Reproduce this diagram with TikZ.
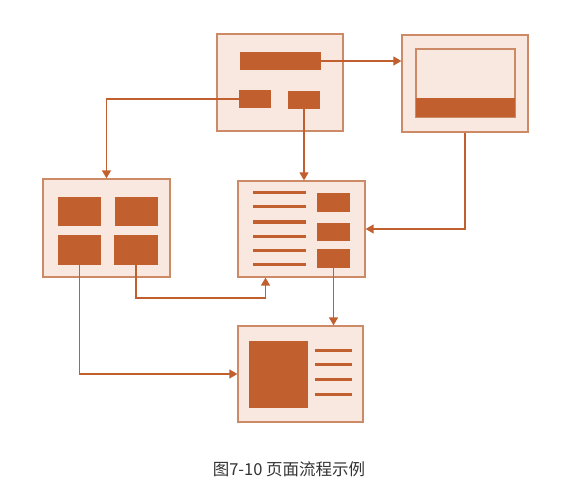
\documentclass[tikz,border=0pt]{standalone}
\usepackage{fontspec}
\newfontfamily\cjk{Noto Sans CJK SC}
\usepackage{xcolor}
\usetikzlibrary{arrows.meta}
\definecolor{pagefill}{HTML}{F8E8DF}
\definecolor{pageedge}{HTML}{CD8A66}
\definecolor{blockfill}{HTML}{C25F2F}

\begin{document}
\begin{tikzpicture}[x=1pt,y=-1pt]
        \useasboundingbox (0,0) rectangle (572,486);

        \begin{scope}[every node/.style = {draw=pageedge, fill=pagefill, line width=1.3pt, inner sep=0pt}]
            \node[minimum width=126pt, minimum height=97pt] (A) at (280,82.5)  {};
            \node[minimum width=126pt, minimum height=97pt] (B) at (465,83.5)  {};

            \node[minimum width=127pt, minimum height=98pt] (C) at (106.5,228) {};
            \node[minimum width=127pt, minimum height=96pt] (D) at (301.5,229) {};

            \node[minimum width=125pt, minimum height=96pt] (E) at (300.5,374) {};

            \node[minimum width=99pt, minimum height=68pt, fill=none] (Bwin) at (465.5,83) {};
        \end{scope}

        \begin{scope}[every node/.style = {fill=blockfill, inner sep=0pt}]
            \node[minimum width=81pt, minimum height=18pt] (Abar)   at (280.5,61)  {};
            \node[minimum width=32pt, minimum height=18pt] (Aleft)  at (255,99)    {};
            \node[minimum width=32pt, minimum height=18pt] (Aright) at (304,100)   {};

            \node[minimum width=99pt, minimum height=19pt] (Bbar)   at (465.5,107.5) {};

            \node[minimum width=43pt, minimum height=29pt] (Ctl) at (79.5,211.5) {};
            \node[minimum width=43pt, minimum height=29pt] (Ctr) at (136.5,211.5) {};
            \node[minimum width=43pt, minimum height=30pt] (Cbl) at (79.5,250) {};
            \node[minimum width=44pt, minimum height=30pt] (Cbr) at (136,250) {};

            \node[minimum width=33pt, minimum height=19pt] (Dr1) at (333.5,202.5) {};
            \node[minimum width=33pt, minimum height=18pt] (Dr2) at (333.5,232) {};
            \node[minimum width=33pt, minimum height=19pt] (Dr3) at (333.5,258.5) {};

            \node[minimum width=59pt, minimum height=67pt] (Epic) at (278.5,374.5) {};
        \end{scope}

        % text lines
        \foreach \y in {193,207,222,236,250,264}
            \draw[blockfill, line width=3pt] (253,\y) -- (306,\y);
        \foreach \y in {350,364,379,394}
            \draw[blockfill, line width=3pt] (315,\y) -- (352,\y);

        \begin{scope}[>={Triangle[length=8pt,width=9pt]},
                        every path/.style={draw=blockfill, line width=1.5pt}]
            \draw [->] (Abar.east) -- (Abar.east -| B.west);
            \draw [->] (Aleft.west) -| (C.north);
            \draw [->] (Aright.south) -- (Aright.south |- D.north);
            \draw [->] (B.south) |- (D.east);
            \draw [->] (Cbr.south) -- ++(0,33) -| ([xshift=-36pt]D.south);
            \draw [->] (Cbl.south) |- (E.west);
            \draw [->] (Dr3.south) -- (Dr3.south |- E.north);
        \end{scope}

        \node[text=black!80, font=\cjk\fontsize{16.5pt}{19pt}\selectfont] (cap) at (289,469) {图7-10 页面流程示例};
    \end{tikzpicture}
\end{document}
